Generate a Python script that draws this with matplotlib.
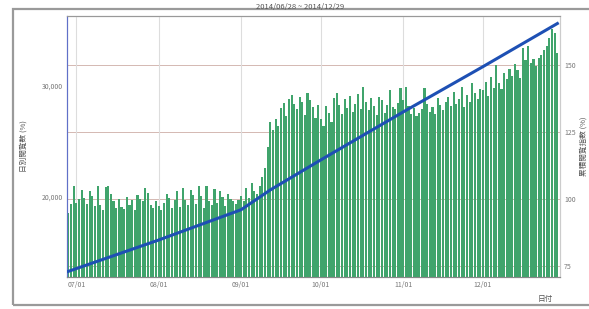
import pandas as pd
import matplotlib
matplotlib.use("Agg")
import matplotlib.pyplot as plt
import matplotlib.dates as mdates
from matplotlib.patches import Rectangle

plt.rcParams['font.family'] = ['Noto Sans CJK JP', 'DejaVu Sans']

# daily values (left axis), 2014/06/28 - 2014/12/29
jun_jul = [18600, 19400, 21000, 19500, 19800, 20600, 19900, 19400, 20500, 20100,
           19200, 21000, 19300, 18800, 20900, 21000, 20300, 19600, 19000, 19800,
           19100, 18900, 20000, 19300, 19700, 18800, 20200, 19800, 19600, 20800,
           20400, 19300, 19000, 19600]
aug = [19200, 18800, 19500, 20300, 19900, 19000, 19700, 20500, 19100, 20800,
       19700, 19300, 20600, 20200, 19400, 21000, 20100, 19000, 21000, 19600,
       19300, 20700, 19500, 20500, 20000, 19200, 20300, 19800, 19600, 19400,
       19700]
sep = [20100, 19600, 20800, 19900, 21300, 20500, 20300, 21000, 21800, 22600,
       24500, 26800, 26000, 27000, 26400, 28000, 28500, 27300, 28800, 29200,
       28400, 27900, 29000, 28600, 27400, 29400, 28700, 28100, 27100, 28300]
oct_ = [27000, 26400, 28200, 27600, 26800, 28900, 29400, 28300, 27500, 28800,
        28000, 29100, 27700, 28400, 29300, 27900, 29900, 28600, 27800, 28900,
        28200, 27400, 29000, 28700, 27600, 28300, 29600, 28100, 27900, 28500,
        29800]
nov = [28700, 29900, 28200, 27500, 28000, 27300, 27600, 27900, 29800, 28400,
       27700, 28100, 27500, 28900, 28300, 27800, 28600, 29000, 28200, 29500,
       28400, 28800, 29900, 28100, 29200, 28600, 30300, 29400, 28800, 29700]
dec = [29600, 30400, 29100, 30800, 29800, 31900, 30300, 29700, 31200, 30600,
       31500, 30900, 32000, 31400, 30700, 33400, 32300, 33600, 32100, 32400,
       31800, 32500, 32800, 33200, 33600, 34300, 35100, 34800, 33000]
daily = jun_jul + aug + sep + oct_ + nov + dec
days = pd.date_range("2014-06-28", periods=len(daily), freq="D")

# cumulative index (right axis)
line_dates = pd.to_datetime(["2014-06-28", "2014-08-01", "2014-09-01", "2014-09-12",
                             "2014-10-01", "2014-11-01", "2014-12-01", "2014-12-29"])
line_vals = [73.0, 84.7, 96.0, 103.4, 114.6, 132.5, 149.4, 165.5]

right_lim = (70.9, 168.3)

fig = plt.figure(figsize=(5.89, 3.09), dpi=100)
fig.patches.append(Rectangle((0.022, 0.013), 1.0, 0.958, transform=fig.transFigure,
                             fill=False, edgecolor="#9a9a9a", lw=1.6))
rect = [0.1138, 0.1036, 0.8370, 0.8446]

# bottom layer: right axis ticks and horizontal grid
ax2 = fig.add_axes(rect)
ax2.yaxis.tick_right()
ax2.yaxis.set_label_position("right")
ax2.set_ylim(*right_lim)
ax2.set_yticks([75, 100, 125, 150])
ax2.grid(axis="y", color="#d4b8b2", lw=0.7)
ax2.set_xticks([])

# middle layer: daily bars, left axis
ax = fig.add_axes(rect)
ax.patch.set_visible(False)
ax.bar(days, daily, width=0.8, color="#40a46c", zorder=2)
ax.set_ylim(12800, 36300)
ax.set_yticks([20000, 30000])
ax.set_yticklabels(["20,000", "30,000"])
ax.set_xlim(pd.Timestamp("2014-06-27 12:00"), pd.Timestamp("2014-12-30"))
ax.xaxis.set_major_locator(mdates.MonthLocator())
ax.xaxis.set_major_formatter(mdates.DateFormatter("%m/%d"))
ax.grid(axis="x", color="#dddddd", lw=0.8, zorder=0)

# top layer: cumulative line
ax3 = fig.add_axes(rect)
ax3.patch.set_visible(False)
ax3.plot(line_dates, line_vals, color="#1e50b4", lw=2.2)
ax3.set_ylim(*right_lim)
ax3.set_xlim(ax.get_xlim())
ax3.axis("off")

for a in (ax, ax2):
    a.tick_params(length=0, labelsize=5, colors="#777777", pad=3)
    a.spines["top"].set_color("#999999")
    a.spines["right"].set_color("#cccccc")
    a.spines["bottom"].set_color("#888888")
    a.spines["left"].set_color("#6070c8")

ax.set_ylabel("日別閲覧数 (%)", fontsize=5.5, color="#555555", labelpad=10)
ax2.set_ylabel("累積閲覧指数 (%)", fontsize=5.5, color="#555555", rotation=90, labelpad=3)
fig.text(0.925, 0.025, "日付", fontsize=5.5, color="#555555", ha="center")
fig.text(0.51, 0.99, "2014/06/28 ~ 2014/12/29", fontsize=5.5, color="#555555",
         ha="center", va="top")

fig.savefig("out.png", dpi=100)
